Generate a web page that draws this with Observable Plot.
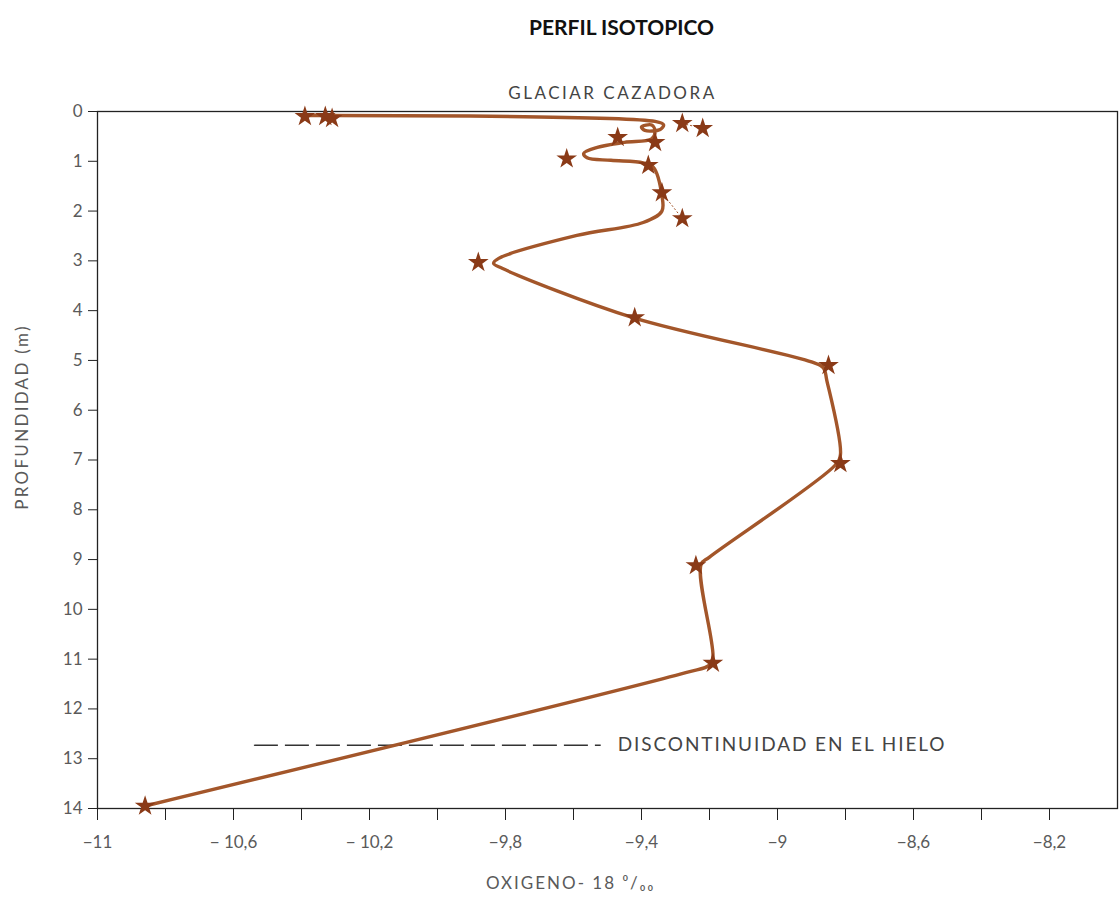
<!DOCTYPE html>
<html>
<head>
<meta charset="utf-8">
<script src="https://cdn.jsdelivr.net/npm/d3@7"></script>
<script src="https://cdn.jsdelivr.net/npm/@observablehq/plot@0.6"></script>
<style>
  body { margin: 0; background: #fff; }
  #chart svg { display: block; }
</style>
</head>
<body>
<div id="chart"></div>
<script>
// ---- data ----
const titleText = "PERFIL ISOTOPICO";
const subtitleText = "GLACIAR CAZADORA";
const xLabelText = "OXIGENO- 18 \u2070/\u2080\u2080";
const yLabelText = "PROFUNDIDAD (m)";
const noteText = "DISCONTINUIDAD EN EL HIELO";

// hand-drawn profile line (oxygen-18, depth m)
const lineO18 =   [-10.38, -9.36, -9.335, -9.345, -9.39, -9.40, -9.37, -9.36, -9.37, -9.45, -9.53, -9.57, -9.56, -9.49, -9.395, -9.365, -9.34, -9.34, -9.395, -9.59, -9.82, -9.835, -9.81, -9.425, -8.90, -8.865, -8.855, -8.815, -8.83, -9.20, -9.225, -9.19, -9.20, -9.27, -10.86];
const lineDepth = [0.08,   0.2,   0.27,   0.36,   0.38,  0.31,  0.27,  0.40,  0.55,  0.62,  0.72,  0.84,  0.93,  0.98,  1.03,   1.12,   1.69,  2.0,   2.23,   2.49,  2.95,  3.05,   3.15,  4.14,   5.03,  5.15,   5.4,    6.9,    7.1,   8.95,  9.1,    10.96, 11.12, 11.27, 13.95];

// measured samples (stars)
const sampleO18 =   [-10.39, -10.33, -10.31, -9.28, -9.22, -9.47, -9.36, -9.62, -9.38, -9.34, -9.28, -9.88, -9.42, -8.85, -8.815, -9.24, -9.19, -10.86];
const sampleDepth = [0.1,    0.1,    0.14,   0.24,  0.34,  0.52,  0.62,  0.95,  1.08,  1.63,  2.15,  3.03,  4.14,  5.1,   7.07,   9.12,  11.08, 13.95];

// thin dotted links between isolated samples
const linkX1 = [-9.28, -9.34];
const linkY1 = [0.24, 1.63];
const linkX2 = [-9.22, -9.28];
const linkY2 = [0.34, 2.15];

// ice discontinuity
const discX1 = [-10.54];
const discX2 = [-9.52];
const discDepth = [12.73];

// axes
const yTicks = [0,1,2,3,4,5,6,7,8,9,10,11,12,13,14];
const xTicks = [-11,-10.8,-10.6,-10.4,-10.2,-10,-9.8,-9.6,-9.4,-9.2,-9,-8.8,-8.6,-8.4,-8.2];
const xLabelValues = [-11,-10.6,-10.2,-9.8,-9.4,-9,-8.6,-8.2];
const xLabelTexts = ["\u221211","\u2212 10,6","\u2212 10,2","\u22129,8","\u22129,4","\u22129","\u22128,6","\u22128,2"];

// ---- build ----
const line = lineO18.map((x, i) => ({x, y: lineDepth[i]}));
const samples = sampleO18.map((x, i) => ({x, y: sampleDepth[i]}));
const links = linkX1.map((x1, i) => ({x1, y1: linkY1[i], x2: linkX2[i], y2: linkY2[i]}));
const disc = discX1.map((x1, i) => ({x1, x2: discX2[i], y: discDepth[i]}));

const fmtX = d => {
  const i = xLabelValues.findIndex(v => Math.abs(v - d) < 1e-6);
  return i >= 0 ? xLabelTexts[i] : "";
};

const brown = "#a3562a";
const starFill = "#8a3a17";
const textGray = "#5a5a5a";
const font = "Lato, 'Open Sans', sans-serif";

const chart = Plot.plot({
  width: 1119,
  height: 906,
  marginLeft: 97,
  marginRight: 2,
  marginTop: 111,
  marginBottom: 98,
  style: {fontFamily: font, background: "#fff"},
  x: {domain: [-11, -8]},
  y: {domain: [0, 14], reverse: true},
  marks: [
    Plot.frame({stroke: "#222", strokeWidth: 1.3}),
    Plot.axisY({ticks: yTicks, tickSize: 9, tickPadding: 6, tickFormat: d => String(d), fontSize: 17, fill: textGray, stroke: "#222", label: null}),
    Plot.axisX({ticks: xTicks, tickSize: 12, tickPadding: 15, tickFormat: fmtX, fontSize: 17, fill: textGray, stroke: "#222", label: null}),
    Plot.link(disc, {x1: "x1", x2: "x2", y1: "y", y2: "y", stroke: "#333", strokeWidth: 1.3, strokeDasharray: "24,7"}),
    Plot.text(disc, {x: "x2", y: "y", text: () => noteText, textAnchor: "start", dx: 17, fontSize: 19, fill: "#444"}),
    Plot.link(links, {x1: "x1", y1: "y1", x2: "x2", y2: "y2", stroke: brown, strokeWidth: 1, strokeDasharray: "2,2"}),
    Plot.line(line, {x: "x", y: "y", curve: "catmull-rom", stroke: brown, strokeWidth: 3.4, strokeLinejoin: "round", strokeLinecap: "round"}),
    Plot.dot(samples, {x: "x", y: "y", symbol: "star", r: 6.5, fill: starFill, stroke: "none"}),
    Plot.text([titleText], {frameAnchor: "top", dx: 14, dy: -91, fontSize: 21, fontWeight: "bold", fill: "#111", text: d => d}),
    Plot.text([subtitleText], {frameAnchor: "top", dx: 5, dy: -25, fontSize: 17, fill: "#444", text: d => d}),
    Plot.text([xLabelText], {frameAnchor: "bottom", dx: -37, dy: 80, fontSize: 17, fill: textGray, text: d => d}),
    Plot.text([yLabelText], {frameAnchor: "left", textAnchor: "middle", dx: -75, dy: -43, rotate: -90, fontSize: 17, fill: textGray, text: d => d})
  ]
});

// widen letter spacing to match the reference's wide typeface
const spacing = new Map([[subtitleText, "2.5px"], [noteText, "1.9px"], [xLabelText, "2px"], [yLabelText, "2.3px"]]);
d3.select(chart).selectAll("text").each(function() {
  const s = spacing.get(this.textContent);
  if (s) this.setAttribute("letter-spacing", s);
});
document.getElementById("chart").append(chart);
</script>
</body>
</html>
